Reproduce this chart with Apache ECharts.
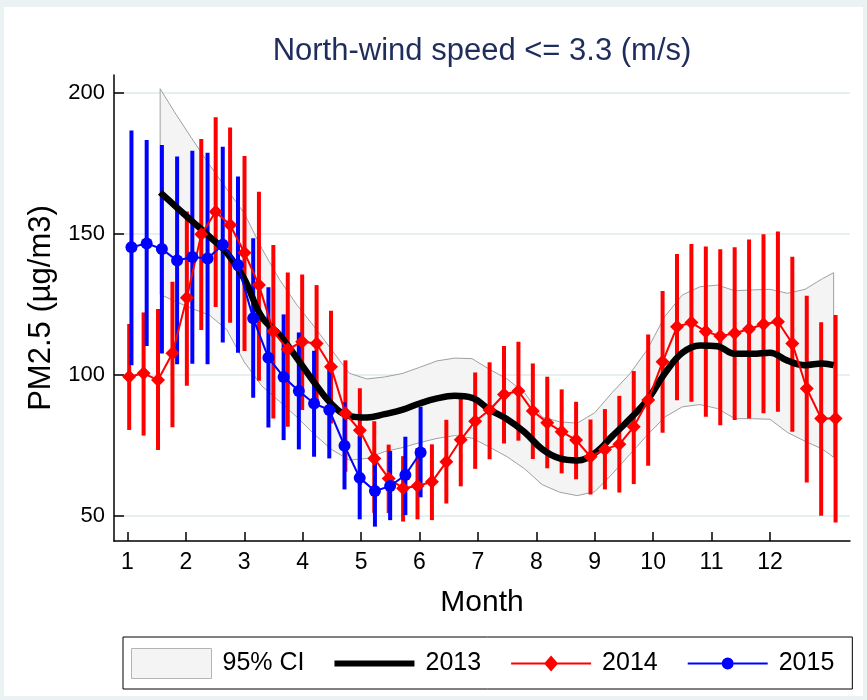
<!DOCTYPE html>
<html><head><meta charset="utf-8">
<script src="https://cdn.jsdelivr.net/npm/echarts@6/dist/echarts.min.js"></script>
<style>html,body{margin:0;padding:0;background:#eaf2f3}#c{width:867px;height:700px}</style>
</head><body><div id="c"></div>
<script>
const FONT = '"Liberation Sans Narrow","Liberation Sans",Arial,sans-serif';
const monthTicks = [1, 2, 3, 4, 5, 6, 7, 8, 9, 10, 11, 12];
const yTicks = [50, 100, 150, 200];

// 2013 smoothed mean with 95% CI band
const x2013 = [1.56, 1.8, 2.1, 2.4, 2.7, 3.0, 3.3, 3.6, 3.9, 4.2, 4.5, 4.8, 5.1, 5.4, 5.7, 6.0, 6.3, 6.6, 6.9, 7.2,
  7.5, 7.8, 8.1, 8.4, 8.7, 9.0, 9.3, 9.6, 9.9, 10.2, 10.5, 10.8, 11.1, 11.4, 11.7, 12.0, 12.3, 12.6, 12.9, 13.09];
const mean2013 = [164.7, 160.2, 154.6, 149.1, 143.3, 134.0, 120.5, 114.2, 105.9, 97.2, 89.5, 85.3, 84.8, 86.0, 87.5, 89.8, 91.6, 92.5, 91.8, 87.6,
  84.2, 79.6, 73.6, 70.3, 69.6, 72.2, 78.2, 84.3, 91.0, 100.5, 107.8, 110.4, 110.1, 107.4, 107.4, 107.8, 105.0, 103.4, 104.0, 103.4];
const ciUpper = [201.5, 193.4, 183.9, 174.6, 165.9, 157.3, 144.8, 133.9, 124.8, 117.0, 108.7, 100.5, 98.5, 99.2, 100.4, 102.6, 104.9, 105.9, 105.7, 101.9,
  98.5, 93.5, 85.0, 83.3, 82.8, 86.5, 93.7, 100.3, 108.9, 120.7, 128.3, 131.2, 131.8, 129.8, 130.1, 130.3, 128.9, 130.3, 134.1, 136.2];
const ciLower = [128.5, 126.2, 123.5, 121.2, 116.0, 104.5, 96.0, 90.6, 85.0, 78.8, 73.4, 69.7, 70.3, 72.7, 74.1, 75.9, 77.4, 78.4, 77.5, 74.3,
  70.9, 66.6, 61.0, 58.3, 57.1, 58.5, 64.8, 71.7, 78.6, 85.0, 88.6, 89.4, 88.0, 84.4, 84.4, 84.2, 79.5, 76.4, 73.6, 70.7];

// 2014 weekly means with error bars
const mean2014 = [99.3, 100.5, 98.1, 107.6, 127.3, 149.8, 157.8, 153.1, 143.3, 131.8,
  115.3, 109.0, 111.7, 111.1, 102.8, 86.3, 80.3, 70.3, 63.2, 59.7,
  60.5, 62.0, 69.1, 76.9, 83.5, 87.5, 93.0, 94.2, 87.1, 83.0,
  79.8, 76.8, 70.9, 73.5, 75.3, 81.5, 91.0, 104.6, 117.0, 118.5,
  115.3, 113.7, 114.7, 116.2, 117.9, 118.8, 111.1, 95.1, 84.5, 84.5];
const lo2014 = [80.4, 78.4, 73.3, 81.4, 96.1, 115.9, 124.0, 118.4, 108.4, 97.9,
  84.5, 81.5, 87.5, 89.2, 82.7, 65.6, 61.0, 51.0, 50.9, 47.9,
  48.7, 48.4, 54.3, 60.4, 66.6, 70.0, 75.6, 76.6, 70.1, 66.8,
  65.0, 62.9, 57.5, 59.3, 58.2, 61.2, 67.7, 79.4, 90.9, 90.4,
  85.1, 82.1, 83.9, 84.5, 86.3, 86.9, 79.8, 61.8, 50.0, 47.6];
const hi2014 = [118.0, 122.1, 123.3, 133.0, 157.9, 183.6, 191.4, 187.7, 177.6, 164.9,
  146.0, 136.3, 135.6, 131.8, 122.7, 105.1, 95.2, 83.5, 75.2, 71.1,
  73.9, 75.3, 84.0, 93.1, 100.8, 104.4, 110.2, 111.7, 104.0, 99.3,
  94.8, 90.4, 84.1, 87.8, 92.5, 101.3, 114.3, 129.7, 142.8, 146.4,
  145.5, 144.5, 145.2, 148.0, 149.8, 150.8, 141.9, 128.0, 118.6, 121.2];
const x2014 = mean2014.map((_, i) => 1.03 + i * 0.2468);

// 2015 weekly means with error bars
const mean2015 = [145.2, 146.6, 144.6, 140.5, 141.8, 141.2, 146.1, 138.9, 120.0, 106.0,
  99.2, 94.2, 89.8, 87.5, 74.8, 63.4, 58.7, 60.5, 64.4, 72.4];
const lo2015 = [103.4, 110.2, 107.5, 103.7, 103.9, 103.7, 111.4, 107.8, 91.8, 81.3,
  76.8, 73.5, 70.9, 70.3, 59.3, 48.7, 46.1, 48.4, 50.2, 56.5];
const hi2015 = [186.7, 183.3, 181.5, 177.4, 179.5, 178.8, 180.9, 170.3, 148.4, 131.0,
  121.4, 115.0, 108.5, 103.7, 90.2, 78.2, 71.5, 72.9, 78.0, 88.6];
const x2015 = mean2015.map((_, i) => 1.069 + i * 0.2605);

const legendNames = ['95% CI', '2013', '2014', '2015'];

function errBars(xs, lo, hi, color, name) {
  return {
    type: 'custom', name: name, silent: true,
    data: xs.map((x, i) => [x, lo[i], hi[i]]),
    encode: { x: 0, y: [1, 2] },
    renderItem: function (params, api) {
      const a = api.coord([api.value(0), api.value(1)]);
      const b = api.coord([api.value(0), api.value(2)]);
      return { type: 'line', shape: { x1: a[0], y1: a[1], x2: b[0], y2: b[1] },
        style: { stroke: color, lineWidth: 4 } };
    }
  };
}

const chart = echarts.init(document.getElementById('c'), null, { renderer: 'canvas' });
chart.setOption({
  animation: false,
  backgroundColor: '#eaf2f3',
  graphic: [{ type: 'rect', z: -10, shape: { x: 4, y: 7, width: 859, height: 689 }, style: { fill: '#ffffff' } }],
  title: {
    text: 'North-wind speed <= 3.3 (m/s)', left: 482, top: 36, padding: 0, textAlign: 'center',
    textStyle: { fontFamily: FONT, fontSize: 31, fontWeight: 'normal', color: '#1f2d5c', lineHeight: 31 }
  },
  grid: { left: 114, right: 17, top: 75, bottom: 159, containLabel: false },
  xAxis: {
    type: 'value', min: 0.77, max: 13.37,
    name: 'Month', nameLocation: 'middle', nameGap: 47,
    nameTextStyle: { fontFamily: FONT, fontSize: 30, color: '#000' },
    axisLine: { show: true, lineStyle: { color: '#000', width: 1.5 } },
    axisTick: { show: true, inside: true, length: 9, customValues: monthTicks, lineStyle: { color: '#000', width: 1.5 } },
    axisLabel: { customValues: monthTicks, margin: 10, fontFamily: FONT, fontSize: 23, color: '#000' },
    splitLine: { show: false }
  },
  yAxis: {
    type: 'value', min: 41, max: 206.35,
    name: 'PM2.5 (µg/m3)', nameLocation: 'middle', nameGap: 56, nameRotate: 90,
    nameTextStyle: { fontFamily: FONT, fontSize: 31, color: '#000' },
    axisLine: { show: true, lineStyle: { color: '#000', width: 1.5 } },
    axisTick: { show: true, inside: true, length: 10, customValues: yTicks, lineStyle: { color: '#000', width: 1.5 } },
    axisLabel: { customValues: yTicks, margin: 9, fontFamily: FONT, fontSize: 22, color: '#000' },
    splitLine: { show: true, lineStyle: { color: '#e6eff1', width: 2 } }
  },
  legend: {
    left: 123, top: 637, orient: 'horizontal',
    padding: [11, 18, 10, 8], itemWidth: 86, itemHeight: 30, itemGap: 30,
    borderColor: '#000', borderWidth: 1, backgroundColor: '#fff', selectedMode: false,
    textStyle: { fontFamily: FONT, fontSize: 25, color: '#000' },
    data: [
      { name: legendNames[0], icon: 'path://M0,0L80,0L80,30L0,30ZM86,0',
        itemStyle: { color: '#f4f4f4', borderColor: '#b4b4b4', borderWidth: 1 } },
      { name: legendNames[1], icon: 'path://M0,0M86,30M0,12L80,12L80,18L0,18Z',
        itemStyle: { color: '#000', borderWidth: 0 } },
      { name: legendNames[2], icon: 'path://M0,0M86,30M0,14L34,14L34,16L0,16ZM46,14L80,14L80,16L46,16ZM40,7L47,15L40,23L33,15Z',
        itemStyle: { color: '#ff0000', borderWidth: 0 } },
      { name: legendNames[3], icon: 'path://M0,0M86,30M0,14L34,14L34,16L0,16ZM46,14L80,14L80,16L46,16ZM34,15A6,6 0 1,1 46,15A6,6 0 1,1 34,15Z',
        itemStyle: { color: '#0000ff', borderWidth: 0 } }
    ]
  },
  series: [
    {
      type: 'custom', name: legendNames[0], silent: true,
      data: x2013.map((x, i) => [x, ciLower[i], ciUpper[i]]),
      encode: { x: 0, y: [1, 2] },
      renderItem: function (params, api) {
        if (params.dataIndex !== 0) return null;
        const pts = [];
        for (let i = 0; i < x2013.length; i++) pts.push(api.coord([x2013[i], ciUpper[i]]));
        for (let i = x2013.length - 1; i >= 0; i--) pts.push(api.coord([x2013[i], ciLower[i]]));
        return { type: 'polygon', shape: { points: pts }, style: { fill: '#f4f4f4', stroke: '#a0a0a0', lineWidth: 1 } };
      }
    },
    {
      type: 'line', name: legendNames[1], data: x2013.map((x, i) => [x, mean2013[i]]),
      smooth: 0.4, showSymbol: false, symbol: 'none',
      lineStyle: { color: '#000', width: 6.5 }, itemStyle: { color: '#000' }
    },
    errBars(x2014, lo2014, hi2014, '#ff0000', 'bars2014'),
    {
      type: 'line', name: legendNames[2], data: x2014.map((x, i) => [x, mean2014[i]]),
      symbol: 'diamond', symbolSize: 14,
      lineStyle: { color: '#ff0000', width: 2 }, itemStyle: { color: '#ff0000', borderWidth: 0 }
    },
    errBars(x2015, lo2015, hi2015, '#0000ff', 'bars2015'),
    {
      type: 'line', name: legendNames[3], data: x2015.map((x, i) => [x, mean2015[i]]),
      symbol: 'circle', symbolSize: 12,
      lineStyle: { color: '#0000ff', width: 2 }, itemStyle: { color: '#0000ff', borderWidth: 0 }
    }
  ]
});
</script></body></html>
